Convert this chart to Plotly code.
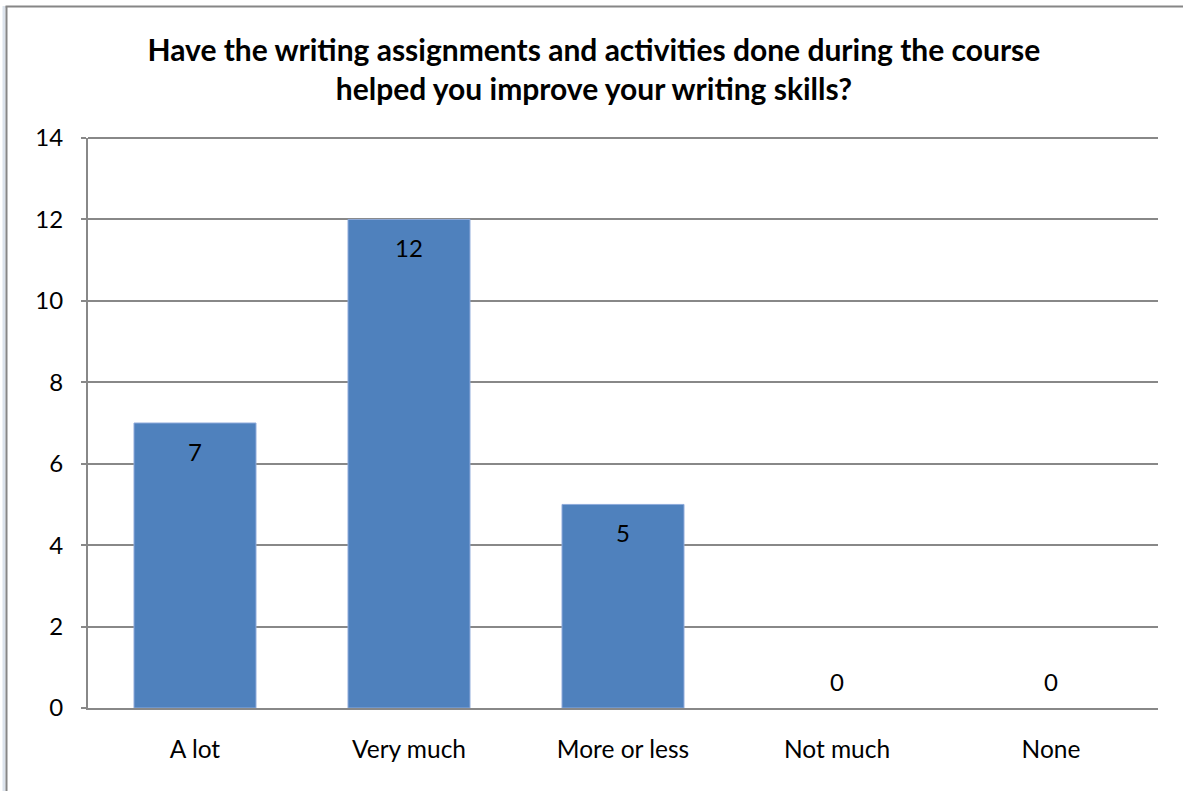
import plotly.graph_objects as go

categories = ["A lot", "Very much", "More or less", "Not much", "None"]
responses = [7, 12, 5, 0, 0]
y_ticks = [0, 2, 4, 6, 8, 10, 12, 14]

title_text = ("Have the writing assignments and activities done during the course"
              "<br>helped you improve your writing skills?")

FONT = "Lato, Carlito, Calibri, sans-serif"
BAR_COLOR = "#4F81BD"
GRID = "#888888"

fig = go.Figure()
fig.add_trace(go.Bar(
    x=categories,
    y=responses,
    marker=dict(color=BAR_COLOR,
                line=dict(color="#8EAADB",
                          width=[1 if v > 0 else 0 for v in responses])),
    width=0.57,
    hoverinfo="x+y",
))

# value labels: inside the top of each bar, above the axis for zero bars
for cat, val in zip(categories, responses):
    fig.add_annotation(
        x=cat, y=val, xref="x", yref="y",
        text=str(val), showarrow=False,
        font=dict(family=FONT, size=24, color="#000000"),
        yshift=(-28 if val > 0 else 27),
    )

W, H = 1183, 791
L, R, T, B = 88, 25, 138, 83
pw, ph = W - L - R, H - T - B


def px_x(p):
    return (p - L) / pw


def px_y(p):
    return (H - B - p) / ph


# outer frame (top and left edges of the chart area)
fig.add_shape(type="line", xref="paper", yref="paper",
              x0=px_x(4), x1=px_x(4), y0=px_y(H + 5), y1=px_y(6),
              line=dict(color="#DCE3EC", width=3))
fig.add_shape(type="line", xref="paper", yref="paper",
              x0=px_x(6.5), x1=px_x(6.5), y0=px_y(H + 5), y1=px_y(6.5),
              line=dict(color="#868686", width=2))
fig.add_shape(type="line", xref="paper", yref="paper",
              x0=px_x(5.5), x1=px_x(W + 5), y0=px_y(6.5), y1=px_y(6.5),
              line=dict(color="#868686", width=2))

fig.update_layout(
    width=W, height=H,
    margin=dict(l=L, r=R, t=T, b=B, pad=0),
    paper_bgcolor="white",
    plot_bgcolor="white",
    showlegend=False,
    title=dict(
        text="<b>" + title_text + "</b>",
        x=0.502, xanchor="center",
        y=1 - 61 / H, yanchor="middle",
        font=dict(family=FONT, size=30, color="#000000"),
    ),
    xaxis=dict(
        showgrid=False,
        showline=True, linecolor=GRID, linewidth=2,
        ticks="", tickfont=dict(family=FONT, size=24.5, color="#000000"),
        ticklabelstandoff=19,
        fixedrange=True,
    ),
    yaxis=dict(
        range=[0, 14],
        tickvals=y_ticks,
        showgrid=True, gridcolor=GRID, gridwidth=2,
        showline=True, linecolor=GRID, linewidth=2,
        ticks="outside", ticklen=5, tickcolor=GRID, tickwidth=2,
        tickfont=dict(family=FONT, size=24, color="#000000"),
        ticklabelstandoff=13,
        zeroline=False,
        fixedrange=True,
    ),
)

# top border of the plot area
fig.add_shape(type="line", xref="paper", yref="paper",
              x0=0, x1=1, y0=1, y1=1, line=dict(color=GRID, width=2))

fig.write_html("out.html")
